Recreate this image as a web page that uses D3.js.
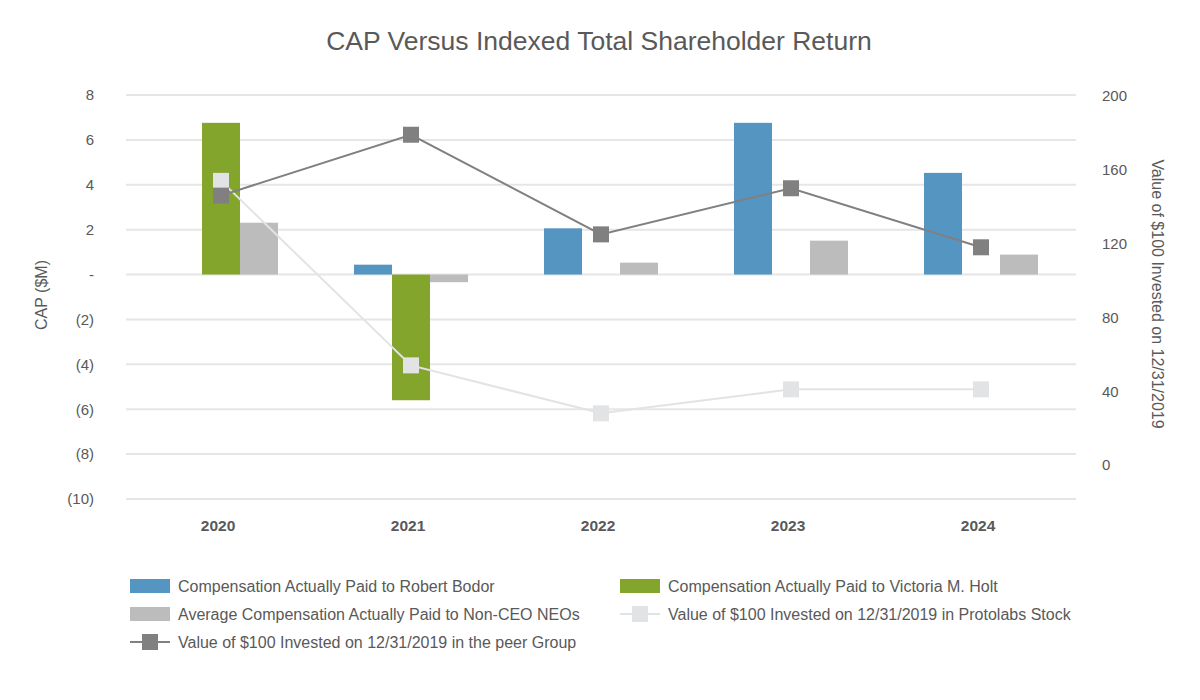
<!DOCTYPE html>
<html>
<head>
<meta charset="utf-8">
<script src="https://cdn.jsdelivr.net/npm/d3@7"></script>
<style>
  body { margin: 0; background: #fff; }
  text { font-family: "Liberation Sans", Arial, sans-serif; fill: #595959; }
</style>
</head>
<body>
<div id="chart"></div>
<script>
// Data
const years = ["2020", "2021", "2022", "2023", "2024"];
const bodor = [null, 0.44, 2.06, 6.76, 4.53];
const holt = [6.76, -5.6, null, null, null];
const neos = [2.31, -0.34, 0.53, 1.51, 0.89];
const peer = [146, 179, 125, 150, 118];
const protolabs = [154, 54, 28, 41, 41];
const leftTicks = [-10, -8, -6, -4, -2, 0, 2, 4, 6, 8];
const rightTicks = [0, 40, 80, 120, 160, 200];

const width = 1200, height = 700;
const plot = { left: 126, right: 1076, top: 95, bottom: 499 };

const svg = d3.select("#chart")
  .append("svg")
  .attr("width", width)
  .attr("height", height);

// Scales
const x0 = d3.scaleBand().domain(years).range([plot.left, plot.right]).padding(0);
const barKeys = ["bodor", "holt", "neos"];
const x1 = d3.scaleBand().domain(barKeys).range([0, x0.bandwidth()]).paddingInner(0).paddingOuter(1);
const y = d3.scaleLinear().domain([-10, 8]).range([plot.bottom, plot.top]);
const y2 = d3.scaleLinear().domain([0, 200]).range([465, 96]);

const colour = { bodor: "#5595c1", holt: "#84a52c", neos: "#bcbcbc" };

// Title
svg.append("text")
  .attr("x", 599).attr("y", 50)
  .attr("text-anchor", "middle")
  .style("font-size", "26.5px")
  .text("CAP Versus Indexed Total Shareholder Return");

// Gridlines
svg.append("g")
  .selectAll("line")
  .data(leftTicks)
  .enter()
  .append("line")
  .attr("x1", plot.left).attr("x2", plot.right)
  .attr("y1", d => y(d)).attr("y2", d => y(d))
  .attr("stroke", "#e6e6e6")
  .attr("stroke-width", 2);

// Left axis
const fmt = d => d === 0 ? "-" : d < 0 ? "(" + (-d) + ")" : String(d);
const leftAxis = svg.append("g")
  .attr("transform", "translate(94,0)")
  .call(d3.axisLeft(y).tickValues(leftTicks).tickFormat(fmt).tickSize(0).tickPadding(0));
leftAxis.select(".domain").remove();
leftAxis.selectAll("text").style("font-size", "15px").attr("fill", "#595959");

svg.append("text")
  .attr("transform", "translate(47,295) rotate(-90)")
  .attr("text-anchor", "middle")
  .style("font-size", "16px")
  .text("CAP ($M)");

// Right axis
const rightAxis = svg.append("g")
  .attr("transform", "translate(1102,0)")
  .call(d3.axisRight(y2).tickValues(rightTicks).tickSize(0).tickPadding(0));
rightAxis.select(".domain").remove();
rightAxis.selectAll("text").style("font-size", "15px").attr("fill", "#595959");

svg.append("text")
  .attr("transform", "translate(1152,294) rotate(90)")
  .attr("text-anchor", "middle")
  .style("font-size", "16px")
  .text("Value of $100 Invested on 12/31/2019");

// X labels
const xAxis = svg.append("g")
  .attr("transform", "translate(-3,520)")
  .call(d3.axisBottom(x0).tickSize(0).tickPadding(0));
xAxis.select(".domain").remove();
xAxis.selectAll("text")
  .style("font-size", "15.5px")
  .style("font-weight", "bold")
  .attr("fill", "#595959")
  .attr("dy", "0.71em");

// Bars
const barData = [];
years.forEach((yr, i) => {
  barData.push({ year: yr, key: "bodor", value: bodor[i] });
  barData.push({ year: yr, key: "holt", value: holt[i] });
  barData.push({ year: yr, key: "neos", value: neos[i] });
});

svg.append("g")
  .selectAll("rect")
  .data(barData.filter(d => d.value !== null))
  .enter()
  .append("rect")
  .attr("x", d => x0(d.year) + x1(d.key))
  .attr("width", x1.bandwidth())
  .attr("y", d => y(Math.max(0, d.value)))
  .attr("height", d => Math.abs(y(d.value) - y(0)))
  .attr("fill", d => colour[d.key]);

// Lines
const cx = yr => x0(yr) + x0.bandwidth() / 2;
const lineGen = d3.line().x(d => cx(d.year)).y(d => y2(d.value));

function drawSeries(values, stroke, fill) {
  const pts = years.map((yr, i) => ({ year: yr, value: values[i] }));
  svg.append("path")
    .datum(pts)
    .attr("d", lineGen)
    .attr("fill", "none")
    .attr("stroke", stroke)
    .attr("stroke-width", 2);
  svg.append("g")
    .selectAll("rect")
    .data(pts)
    .enter()
    .append("rect")
    .attr("x", d => cx(d.year) - 8)
    .attr("y", d => y2(d.value) - 8)
    .attr("width", 16)
    .attr("height", 16)
    .attr("fill", fill);
}

drawSeries(protolabs, "#e3e3e3", "#e2e3e4");
drawSeries(peer, "#808080", "#808080");

// Legend
const legendItems = [
  { label: "Compensation Actually Paid to Robert Bodor", type: "bar", colour: colour.bodor, x: 130, y: 586 },
  { label: "Compensation Actually Paid to Victoria M. Holt", type: "bar", colour: colour.holt, x: 620, y: 586 },
  { label: "Average Compensation Actually Paid to Non-CEO NEOs", type: "bar", colour: colour.neos, x: 130, y: 614 },
  { label: "Value of $100 Invested on 12/31/2019 in Protolabs Stock", type: "line", colour: "#e2e3e4", x: 620, y: 614 },
  { label: "Value of $100 Invested on 12/31/2019 in the peer Group", type: "line", colour: "#808080", x: 130, y: 642 }
];

const legend = svg.append("g")
  .selectAll("g")
  .data(legendItems)
  .enter()
  .append("g")
  .attr("transform", d => "translate(" + d.x + "," + d.y + ")");

legend.filter(d => d.type === "bar")
  .append("rect")
  .attr("x", 0).attr("y", -7)
  .attr("width", 40).attr("height", 14)
  .attr("fill", d => d.colour);

legend.filter(d => d.type === "line")
  .append("line")
  .attr("x1", 0).attr("x2", 40)
  .attr("y1", 0).attr("y2", 0)
  .attr("stroke", d => d.colour)
  .attr("stroke-width", 2);

legend.filter(d => d.type === "line")
  .append("rect")
  .attr("x", 12).attr("y", -8)
  .attr("width", 16).attr("height", 16)
  .attr("fill", d => d.colour);

legend.append("text")
  .attr("x", 48)
  .attr("y", 0)
  .attr("dy", "0.35em")
  .style("font-size", "16px")
  .text(d => d.label);
</script>
</body>
</html>
